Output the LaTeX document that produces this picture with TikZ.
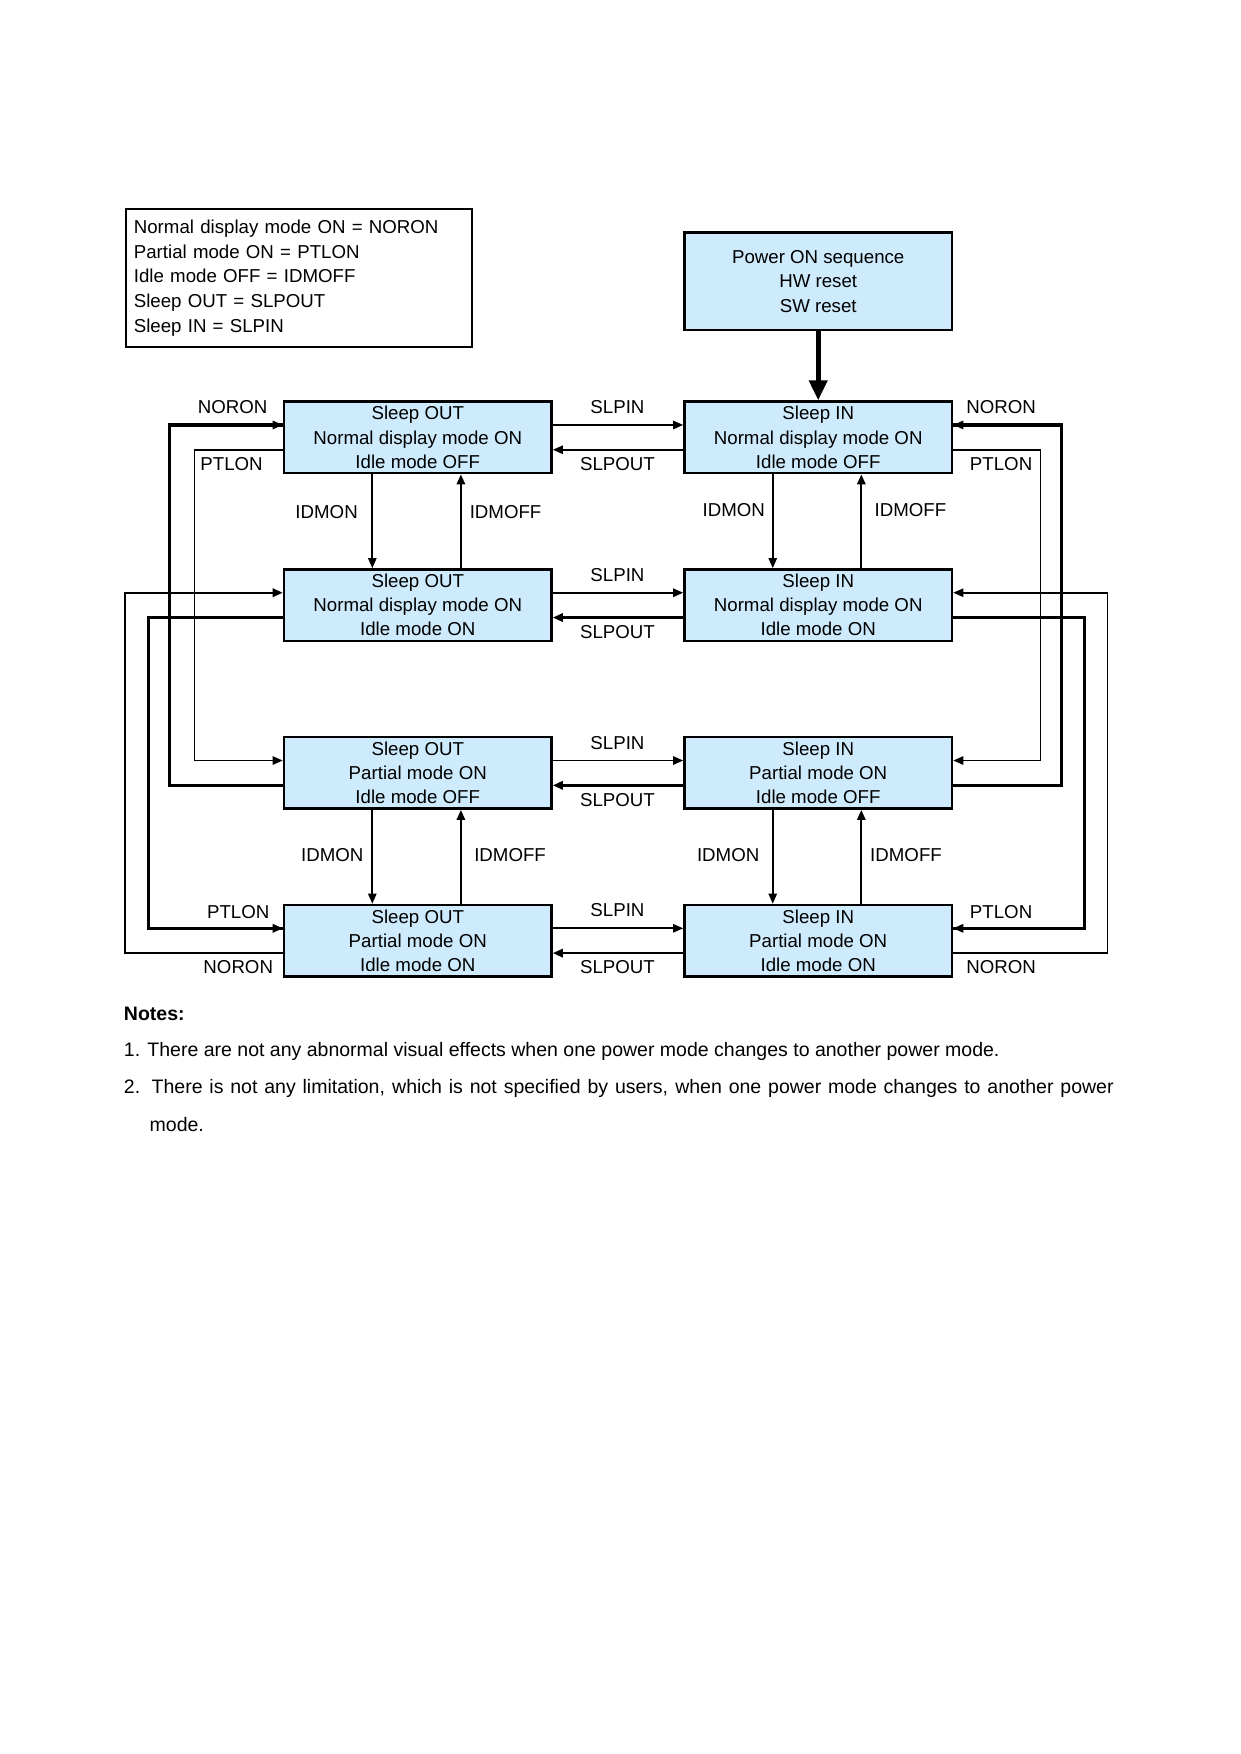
\documentclass[tikz,border=0pt]{standalone}
\usepackage{fontspec}
\setmainfont{Liberation Sans}
\usetikzlibrary{arrows.meta, calc, positioning}
\definecolor{boxblue}{RGB}{205,235,252}
\newcommand{\drawk}{\draw[line width=1.5pt]}
\tikzset{
  state/.style={draw, line width=1.2pt, fill=boxblue, minimum width=45.3mm, minimum height=12.1mm, inner sep=0pt, align=center, font=\fontsize{9}{11.6}\selectfont},
  lbl/.style={inner sep=0pt, font=\fontsize{9}{11}\selectfont},
  note/.style={anchor=west, inner sep=0pt, font=\fontsize{9.4}{11}\selectfont}
}

\begin{document}
\begin{tikzpicture}[x=0.1894mm, y=-0.1894mm, >={Triangle[length=1.7mm,width=1.4mm]}, line width=0.85pt]
\useasboundingbox (0,0) rectangle (1108.8,1568.1);
%\draw[color=blue] (0,0) grid[step=50] (1108,1568); % lưới

% Vẽ bảng chú thích
\node[draw, line width=0.9pt, minimum width=58.6mm, minimum height=23.3mm, text width=56mm, inner xsep=1.3mm, align=left, font=\fontsize{9}{11.9}\selectfont] (legend) at (267.5,248.5)
  {Normal display mode ON = NORON\\Partial mode ON = PTLON\\Idle mode OFF = IDMOFF\\Sleep OUT = SLPOUT\\Sleep IN = SLPIN};

% Vẽ khối khởi động
\node[state, minimum height=16.5mm, font=\fontsize{9}{11.9}\selectfont] (pw) at (731.5,251.5) {Power ON sequence\\HW reset\\SW reset};

% Vẽ các trạng thái
\node[state] (so1) at (373.5,391) {Sleep OUT\\Normal display mode ON\\Idle mode OFF};
\node[state] (si1) at (731.5,391) {Sleep IN\\Normal display mode ON\\Idle mode OFF};
\node[state] (so2) at (373.5,541) {Sleep OUT\\Normal display mode ON\\Idle mode ON};
\node[state] (si2) at (731.5,541) {Sleep IN\\Normal display mode ON\\Idle mode ON};
\node[state] (so3) at (373.5,691) {Sleep OUT\\Partial mode ON\\Idle mode OFF};
\node[state] (si3) at (731.5,691) {Sleep IN\\Partial mode ON\\Idle mode OFF};
\node[state] (so4) at (373.5,841) {Sleep OUT\\Partial mode ON\\Idle mode ON};
\node[state] (si4) at (731.5,841) {Sleep IN\\Partial mode ON\\Idle mode ON};

\draw[line width=2.6pt, -{Triangle[length=3.4mm,width=3mm]}] (pw.south) -- (si1.north);

% SLPIN / SLPOUT
\draw[->] ([yshift=2.1mm]so1.east) -- ([yshift=2.1mm]si1.west);
\draw[->] ([yshift=-2.1mm]si1.west) -- ([yshift=-2.1mm]so1.east);
\draw[->] ([yshift=2.1mm]so2.east) -- ([yshift=2.1mm]si2.west);
\drawk[->] ([yshift=-2.1mm]si2.west) -- ([yshift=-2.1mm]so2.east);
\draw[->] ([yshift=2.1mm]so3.east) -- ([yshift=2.1mm]si3.west);
\drawk[->] ([yshift=-2.1mm]si3.west) -- ([yshift=-2.1mm]so3.east);
\draw[->] ([yshift=2.1mm]so4.east) -- ([yshift=2.1mm]si4.west);
\draw[line width=1.1pt, ->] ([yshift=-2.1mm]si4.west) -- ([yshift=-2.1mm]so4.east);

\node[lbl] (slpin1) at (552,364) {SLPIN};
\node[lbl] (slpout1) at (552,415) {SLPOUT};
\node[lbl] (slpin2) at (552,514) {SLPIN};
\node[lbl] (slpout2) at (552,565) {SLPOUT};
\node[lbl] (slpin3) at (552,664) {SLPIN};
\node[lbl] (slpout3) at (552,715) {SLPOUT};
\node[lbl] (slpin4) at (552,814) {SLPIN};
\node[lbl] (slpout4) at (552,865) {SLPOUT};

% IDMON / IDMOFF
\draw[->] ([xshift=-7.7mm]so1.south) -- ([xshift=-7.7mm]so2.north);
\draw[line width=1.1pt, ->] ([xshift=7.3mm]so2.north) -- ([xshift=7.3mm]so1.south);
\draw[->] ([xshift=-7.7mm]si1.south) -- ([xshift=-7.7mm]si2.north);
\draw[line width=1.1pt, ->] ([xshift=7.3mm]si2.north) -- ([xshift=7.3mm]si1.south);
\draw[->] ([xshift=-7.7mm]so3.south) -- ([xshift=-7.7mm]so4.north);
\draw[line width=1.1pt, ->] ([xshift=7.3mm]so4.north) -- ([xshift=7.3mm]so3.south);
\draw[->] ([xshift=-7.7mm]si3.south) -- ([xshift=-7.7mm]si4.north);
\draw[line width=1.1pt, ->] ([xshift=7.3mm]si4.north) -- ([xshift=7.3mm]si3.south);

\node[lbl] (idmon1) at (292,458) {IDMON};
\node[lbl] (idmoff1) at (452,458) {IDMOFF};
\node[lbl] (idmon2) at (656,456) {IDMON};
\node[lbl] (idmoff2) at (814,456) {IDMOFF};
\node[lbl] (idmon3) at (297,764) {IDMON};
\node[lbl] (idmoff3) at (456,764) {IDMOFF};
\node[lbl] (idmon4) at (651,764) {IDMON};
\node[lbl] (idmoff4) at (810,764) {IDMOFF};

% Vòng ngoài bên trái
\draw[->] ([yshift=-2.1mm]so1.west) -- ++(-79,0) |- ([yshift=2.1mm]so3.west);
\drawk ([yshift=-2.1mm]so3.west) -- ++(-101,0) |- ([yshift=2.1mm]so1.west) coordinate (a1);
\draw[->] ($(a1)+(-30,0)$) -- (a1);
\drawk ([yshift=-2.1mm]so2.west) -- ++(-120,0) |- ([yshift=2.1mm]so4.west) coordinate (a2);
\draw[line width=1.1pt, ->] ($(a2)+(-30,0)$) -- (a2);
\draw[line width=1.1pt, ->] ([yshift=-2.1mm]so4.west) -- ++(-141,0) |- ([yshift=2.1mm]so2.west);

\node[lbl] (noron1) at (208,364) {NORON};
\node[lbl] (ptlon1) at (207,415) {PTLON};
\node[lbl] (ptlon2) at (213,815) {PTLON};
\node[lbl] (noron2) at (213,865) {NORON};

% Vòng ngoài bên phải
\draw[->] ([yshift=-2.1mm]si1.east) -- ++(78,0) |- ([yshift=2.1mm]si3.east);
\drawk ([yshift=-2.1mm]si3.east) -- ++(97,0) |- ([yshift=2.1mm]si1.east) coordinate (b1);
\draw[->] ($(b1)+(30,0)$) -- (b1);
\drawk ([yshift=-2.1mm]si2.east) -- ++(117,0) |- ([yshift=2.1mm]si4.east) coordinate (b2);
\draw[line width=1.1pt, ->] ($(b2)+(30,0)$) -- (b2);
\draw[->] ([yshift=-2.1mm]si4.east) -- ++(138,0) |- ([yshift=2.1mm]si2.east);

\node[lbl] (noron3) at (895,364) {NORON};
\node[lbl] (ptlon3) at (895,415) {PTLON};
\node[lbl] (ptlon4) at (895,815) {PTLON};
\node[lbl] (noron4) at (895,865) {NORON};

% Ghi chú
\node[note, font=\bfseries\fontsize{9.4}{11}\selectfont] (notes) at (110,906) {Notes:};
\node[note] (note1) at (110,940) {1. There are not any abnormal visual effects when one power mode changes to another power mode.};
\node[note] (note2) at (110,973) {\makebox[167.6mm][s]{2. There is not any limitation, which is not specified by users, when one power mode changes to another power}};
\node[note] (note3) at (133,1005) {mode.};

\end{tikzpicture}
\end{document}
